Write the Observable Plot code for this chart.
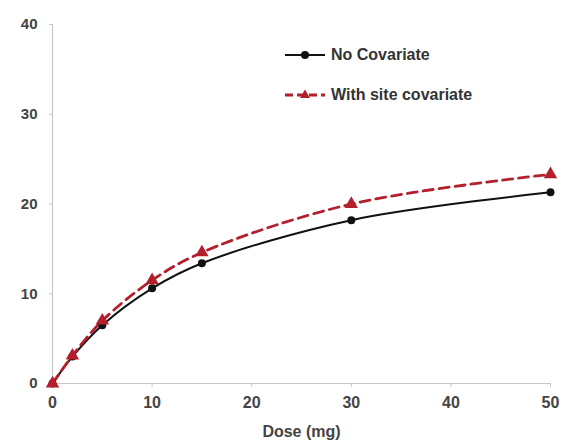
<!DOCTYPE html>
<html>
<head>
<meta charset="utf-8">
<script src="https://cdn.jsdelivr.net/npm/d3@7"></script>
<script src="https://cdn.jsdelivr.net/npm/@observablehq/plot@0.6"></script>
<style>
  body { margin: 0; background: #fff; }
  #chart { position: relative; width: 565px; height: 442px; font-family: "Liberation Sans", Arial, sans-serif; }
  .legend { position: absolute; left: 284px; top: 43px; font-weight: bold; font-size: 16px; color: #333; }
  .legend .row { display: flex; align-items: center; height: 24px; margin-bottom: 16px; }
  .legend svg { margin-right: 3px; }
</style>
</head>
<body>
<div id="chart"></div>
<script>
// Dose-response curves, with and without the site covariate
const doses = [0, 2, 5, 10, 15, 30, 50];
const noCovariate = [0, 3.0, 6.5, 10.6, 13.4, 18.2, 21.3];
const withSiteCovariate = [0, 3.1, 7.0, 11.5, 14.6, 20.0, 23.3];
const seriesNames = ["No Covariate", "With site covariate"];
const seriesColors = ["#111111", "#b3202c"];
const xTicks = [0, 10, 20, 30, 40, 50];
const yTicks = [0, 10, 20, 30, 40];

const rowsA = doses.map((d, i) => ({dose: d, value: noCovariate[i]}));
const rowsB = doses.map((d, i) => ({dose: d, value: withSiteCovariate[i]}));

const plot = Plot.plot({
  width: 565,
  height: 442,
  marginLeft: 52,
  marginRight: 15,
  marginTop: 24,
  marginBottom: 59,
  style: {fontFamily: "Liberation Sans, Arial, sans-serif", fontSize: "15px", fontWeight: "bold", color: "#444", background: "#fff"},
  x: {domain: [0, 50]},
  y: {domain: [0, 40]},
  marks: [
    Plot.ruleX([0], {stroke: "#c8c8c8", strokeWidth: 1.2}),
    Plot.ruleY([0], {stroke: "#c8c8c8", strokeWidth: 1.2}),
    Plot.axisY({ticks: yTicks, tickSize: 3, tickPadding: 12, stroke: "#c8c8c8", label: null}),
    Plot.axisX({ticks: xTicks, tickSize: 4, tickPadding: 9, stroke: "#c8c8c8",
      label: "Dose (mg)", labelAnchor: "center", labelArrow: "none", labelOffset: 53, fontSize: 16}),
    Plot.line(rowsA, {x: "dose", y: "value", stroke: seriesColors[0], strokeWidth: 2, curve: "catmull-rom"}),
    Plot.line(rowsB, {x: "dose", y: "value", stroke: seriesColors[1], strokeWidth: 2.8, strokeDasharray: "10,6", curve: "catmull-rom"}),
    Plot.dot(rowsA, {x: "dose", y: "value", fill: seriesColors[0], r: 4}),
    Plot.dot(rowsB, {x: "dose", y: "value", fill: seriesColors[1], symbol: "triangle", r: 5})
  ]
});

const chart = document.getElementById("chart");
chart.appendChild(plot);

// Legend placed inside the plot area, top-right
const legend = document.createElement("div");
legend.className = "legend";
const swatch = (i) => {
  const marker = i === 0
    ? `<circle cx="21" cy="12" r="4" fill="${seriesColors[0]}"/>`
    : `<path d="M21,6.5 L26,15 L16,15 Z" fill="${seriesColors[1]}"/>`;
  const dash = i === 0 ? "" : ` stroke-dasharray="8,4"`;
  return `<svg width="44" height="24"><line x1="1" x2="41" y1="12" y2="12" stroke="${seriesColors[i]}" stroke-width="${i === 0 ? 2.2 : 2.8}"${dash}/>${marker}</svg>`;
};
legend.innerHTML = seriesNames.map((name, i) =>
  `<div class="row">${swatch(i)}<span>${name}</span></div>`).join("");
chart.appendChild(legend);
</script>
</body>
</html>
